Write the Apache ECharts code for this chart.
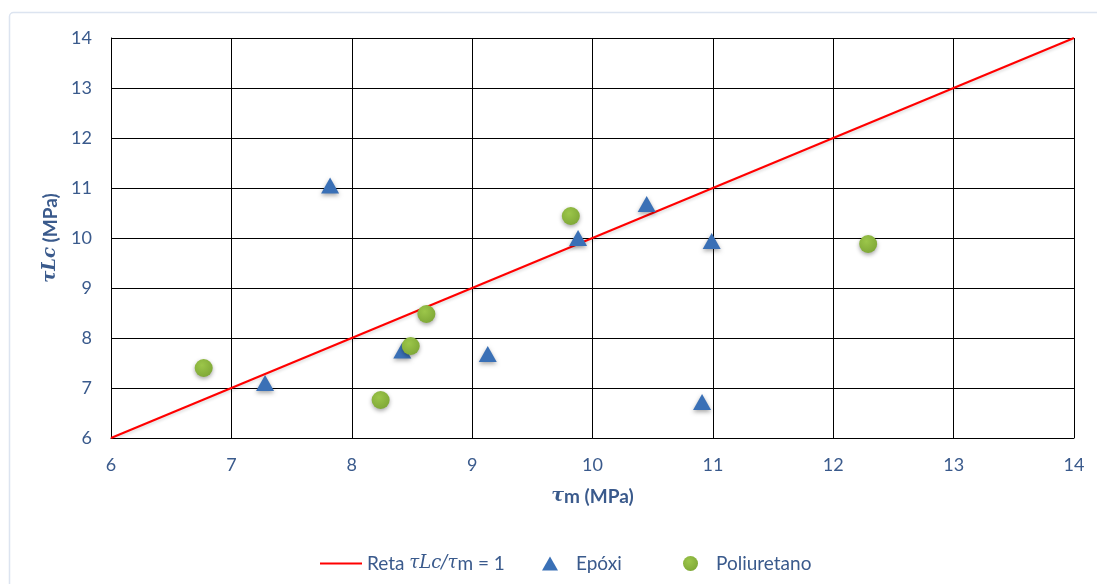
<!DOCTYPE html>
<html><head><meta charset="utf-8">
<script src="https://cdn.jsdelivr.net/npm/echarts@6/dist/echarts.min.js"></script>
<style>html,body{margin:0;padding:0;background:#fff}#c{width:1097px;height:584px}</style>
</head><body><div id="c"></div>
<script>
const lineX = [6, 14];
const lineY = [6, 14];
const epoxiX = [7.82, 7.28, 8.42, 9.13, 9.88, 10.45, 10.99, 10.91];
const epoxiY = [11.05, 7.10, 7.75, 7.68, 10.00, 10.68, 9.94, 6.72];
const poliX = [6.77, 8.24, 8.49, 8.62, 9.82, 12.29];
const poliY = [7.40, 6.76, 7.84, 8.48, 10.44, 9.88];
const seriesNames = ['Reta τLc/τm = 1', 'Epóxi', 'Poliuretano'];

const zip = (a, b) => a.map((v, i) => [v, b[i]]);
const txt = '#3A5A8C';
const font = 'Lato';
const mathFont = 'DejaVu Serif';

const chart = echarts.init(document.getElementById('c'));
const richLegend = {
  a: { color: txt, fontFamily: font, fontSize: 19 },
  m: { color: txt, fontFamily: mathFont, fontStyle: 'italic', fontSize: 18 }
};
const baseLegend = {
  top: 549, itemGap: 0,
  textStyle: { color: txt, fontFamily: font, fontSize: 19, rich: richLegend }
};
chart.setOption({
  backgroundColor: '#ffffff',
  animation: false,
  graphic: [{
    type: 'rect', left: 7, top: 10,
    shape: { width: 1200, height: 700, r: 4 },
    style: { fill: 'none', stroke: '#DCE4F0', lineWidth: 1.5 }, silent: true
  }],
  grid: { left: 111, right: 23, top: 38, bottom: 146 },
  legend: [
    Object.assign({}, baseLegend, {
      left: 315, data: [{ name: seriesNames[0], icon: 'rect' }],
      itemWidth: 42, itemHeight: 2,
      formatter: () => '{a|Reta }{m|τLc/τ}{a|m = 1}'
    }),
    Object.assign({}, baseLegend, {
      left: 537, data: [{ name: seriesNames[1], icon: 'triangle' }],
      itemWidth: 16, itemHeight: 14,
      textStyle: Object.assign({}, baseLegend.textStyle, { padding: [0, 0, 0, 13] })
    }),
    Object.assign({}, baseLegend, {
      left: 678, data: [{ name: seriesNames[2], icon: 'circle' }],
      itemWidth: 15, itemHeight: 15,
      textStyle: Object.assign({}, baseLegend.textStyle, { padding: [0, 0, 0, 13] })
    })
  ],
  xAxis: {
    type: 'value', min: 6, max: 14, interval: 1,
    name: '{m|τ}{b|m (MPa)}', nameLocation: 'middle', nameGap: 49,
    nameTextStyle: { rich: {
      m: { fontFamily: mathFont, fontStyle: 'italic', fontWeight: 'bold', fontSize: 19, color: txt },
      b: { fontFamily: font, fontWeight: 'bold', fontSize: 19, color: txt }
    } },
    axisLine: { show: true, lineStyle: { color: '#000', width: 1 } },
    axisTick: { show: false },
    axisLabel: { color: txt, fontFamily: font, fontSize: 18, margin: 18 },
    splitLine: { show: true, lineStyle: { color: '#000', width: 1 } }
  },
  yAxis: {
    type: 'value', min: 6, max: 14, interval: 1,
    name: '{m|τLc}{b| (MPa)}', nameLocation: 'middle', nameGap: 50, nameRotate: 90,
    nameTextStyle: { rich: {
      m: { fontFamily: mathFont, fontStyle: 'italic', fontWeight: 'bold', fontSize: 18, color: txt },
      b: { fontFamily: font, fontWeight: 'bold', fontSize: 19, color: txt }
    } },
    axisLine: { show: true, lineStyle: { color: '#000', width: 1 } },
    axisTick: { show: false },
    axisLabel: { color: txt, fontFamily: font, fontSize: 18, margin: 19 },
    splitLine: { show: true, lineStyle: { color: '#000', width: 1 } }
  },
  series: [
    {
      name: seriesNames[0], type: 'line', data: zip(lineX, lineY),
      showSymbol: false, symbol: 'none',
      lineStyle: { color: '#FF0000', width: 2, shadowColor: 'rgba(0,0,0,0.15)', shadowBlur: 3, shadowOffsetY: 2 },
      itemStyle: { color: '#FF0000' }, z: 3
    },
    {
      name: seriesNames[1], type: 'scatter', data: zip(epoxiX, epoxiY),
      symbol: 'triangle', symbolSize: [18, 16],
      itemStyle: { color: '#3A70B6', opacity: 1, shadowColor: 'rgba(0,0,0,0.35)', shadowBlur: 4, shadowOffsetY: 2 },
      z: 4
    },
    {
      name: seriesNames[2], type: 'scatter', data: zip(poliX, poliY),
      symbol: 'circle', symbolSize: 18,
      itemStyle: {
        color: new echarts.graphic.RadialGradient(0.4, 0.35, 0.7, [
          { offset: 0, color: '#9CC64A' }, { offset: 1, color: '#7EA736' }
        ]),
        opacity: 1, shadowColor: 'rgba(0,0,0,0.35)', shadowBlur: 4, shadowOffsetY: 2
      },
      z: 5
    }
  ]
});
</script></body></html>
